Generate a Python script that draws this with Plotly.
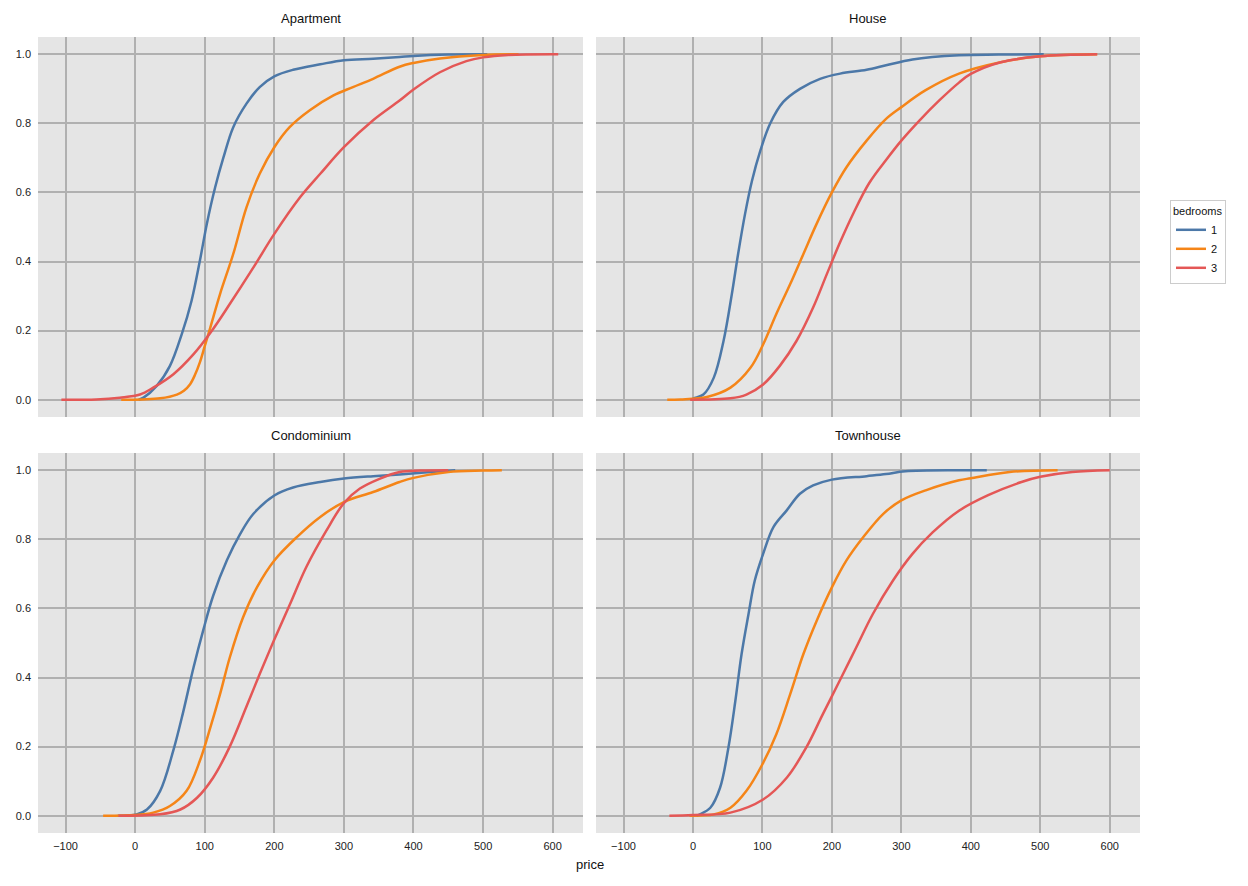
import plotly.graph_objects as go

panels = ["Apartment", "House", "Condominium", "Townhouse"]
bedrooms = ["1", "2", "3"]
colors = {"1": "#4c78a8", "2": "#f58518", "3": "#e45756"}

# Apartment
apt_1_x = [5, 12, 31, 50, 67, 81, 93, 103, 115, 127, 141, 160, 179, 200, 227, 266, 300, 342, 380, 400, 450, 506]
apt_1_y = [0.0, 0.006, 0.04, 0.098, 0.19, 0.286, 0.402, 0.509, 0.615, 0.702, 0.789, 0.857, 0.905, 0.936, 0.955, 0.971, 0.983, 0.987, 0.992, 0.995, 0.999, 1.0]
apt_2_x = [-20, 10, 36, 60, 70, 79, 86, 93, 100, 108, 122, 141, 160, 179, 200, 222, 251, 285, 313, 342, 380, 400, 438, 500, 551]
apt_2_y = [0.0, 0.001, 0.004, 0.015, 0.026, 0.045, 0.072, 0.108, 0.155, 0.209, 0.306, 0.422, 0.557, 0.654, 0.731, 0.789, 0.838, 0.881, 0.905, 0.929, 0.964, 0.975, 0.988, 0.998, 1.0]
apt_3_x = [-106, -56, -22, 7, 26, 55, 84, 110, 136, 170, 200, 237, 266, 300, 342, 380, 400, 438, 476, 500, 536, 608]
apt_3_y = [0.0, 0.001, 0.006, 0.015, 0.035, 0.074, 0.132, 0.199, 0.277, 0.383, 0.48, 0.586, 0.654, 0.731, 0.809, 0.866, 0.898, 0.948, 0.98, 0.991, 0.998, 1.0]

# House
house_1_x = [-2, 1, 15, 30, 44, 56, 65, 75, 85, 97, 111, 130, 154, 183, 212, 250, 278, 316, 383, 440, 505]
house_1_y = [0.0, 0.004, 0.015, 0.064, 0.17, 0.306, 0.422, 0.538, 0.634, 0.721, 0.799, 0.862, 0.9, 0.929, 0.944, 0.955, 0.968, 0.985, 0.997, 0.999, 1.0]
house_2_x = [-37, -18, 20, 54, 83, 101, 120, 140, 159, 178, 200, 221, 250, 278, 300, 335, 383, 443, 500, 582]
house_2_y = [0.0, 0.001, 0.008, 0.035, 0.093, 0.16, 0.248, 0.335, 0.422, 0.509, 0.6, 0.673, 0.75, 0.813, 0.847, 0.896, 0.944, 0.977, 0.994, 1.0]
house_3_x = [-4, 54, 77, 101, 125, 149, 173, 192, 211, 231, 254, 278, 300, 326, 355, 383, 400, 443, 500, 582]
house_3_y = [0.0, 0.004, 0.015, 0.044, 0.098, 0.17, 0.267, 0.36, 0.452, 0.54, 0.628, 0.694, 0.75, 0.808, 0.867, 0.918, 0.943, 0.977, 0.994, 1.0]

# Condominium
condo_1_x = [-25, 2, 17, 36, 55, 69, 84, 98, 112, 132, 151, 170, 200, 227, 266, 300, 342, 380, 420, 460]
condo_1_y = [0.0, 0.004, 0.018, 0.072, 0.19, 0.3, 0.43, 0.538, 0.636, 0.74, 0.816, 0.874, 0.927, 0.95, 0.966, 0.976, 0.983, 0.988, 0.994, 1.0]
condo_2_x = [-46, 0, 26, 50, 74, 93, 108, 122, 136, 155, 175, 200, 232, 266, 300, 342, 380, 400, 450, 500, 527]
condo_2_y = [0.0, 0.002, 0.009, 0.028, 0.072, 0.159, 0.255, 0.352, 0.458, 0.574, 0.661, 0.739, 0.806, 0.865, 0.908, 0.937, 0.966, 0.978, 0.995, 0.999, 1.0]
condo_3_x = [-24, 36, 65, 89, 112, 136, 160, 179, 200, 222, 246, 275, 300, 323, 352, 380, 410, 450]
condo_3_y = [0.0, 0.004, 0.018, 0.052, 0.11, 0.2, 0.316, 0.41, 0.51, 0.61, 0.72, 0.826, 0.905, 0.947, 0.976, 0.995, 0.999, 1.0]

# Townhouse
town_1_x = [5, 10, 25, 39, 51, 61, 70, 80, 89, 101, 116, 135, 154, 173, 200, 250, 278, 306, 383, 423]
town_1_y = [0.0, 0.004, 0.023, 0.081, 0.197, 0.332, 0.468, 0.584, 0.681, 0.758, 0.836, 0.884, 0.932, 0.956, 0.973, 0.983, 0.989, 0.997, 1.0, 1.0]
town_2_x = [-5, 30, 54, 77, 100, 120, 140, 159, 178, 200, 221, 245, 274, 300, 335, 383, 400, 456, 525]
town_2_y = [0.0, 0.004, 0.023, 0.072, 0.149, 0.236, 0.352, 0.468, 0.564, 0.661, 0.739, 0.806, 0.874, 0.913, 0.942, 0.971, 0.977, 0.995, 1.0]
town_3_x = [-34, 0, 54, 101, 135, 163, 187, 211, 235, 259, 288, 316, 345, 383, 425, 473, 500, 546, 600]
town_3_y = [0.0, 0.002, 0.009, 0.047, 0.11, 0.197, 0.294, 0.39, 0.487, 0.584, 0.681, 0.758, 0.82, 0.883, 0.928, 0.966, 0.981, 0.995, 1.0]

series = {
    "Apartment": [(apt_1_x, apt_1_y), (apt_2_x, apt_2_y), (apt_3_x, apt_3_y)],
    "House": [(house_1_x, house_1_y), (house_2_x, house_2_y), (house_3_x, house_3_y)],
    "Condominium": [(condo_1_x, condo_1_y), (condo_2_x, condo_2_y), (condo_3_x, condo_3_y)],
    "Townhouse": [(town_1_x, town_1_y), (town_2_x, town_2_y), (town_3_x, town_3_y)],
}

x_ticks = [-100, 0, 100, 200, 300, 400, 500, 600]
y_ticks = [0.0, 0.2, 0.4, 0.6, 0.8, 1.0]

OFF = 8  # page body margin
W, H = 1248 - 2 * OFF, 886 - 2 * OFF
# panel pixel boxes in screen coords (left, right, top, bottom)
boxes = {
    "Apartment": (38, 583, 37, 417),
    "House": (596, 1140, 37, 417),
    "Condominium": (38, 583, 453, 833),
    "Townhouse": (596, 1140, 453, 833),
}


def px(x):
    return (x - OFF) / W


def py(y):
    return 1 - (y - OFF) / H


FONT = "Liberation Sans, Arial, sans-serif"
fig = go.Figure()
layout = dict(
    template="none",
    width=W, height=H,
    margin=dict(l=0, r=0, t=0, b=0),
    paper_bgcolor="white",
    plot_bgcolor="#e5e5e5",
    font=dict(family=FONT, size=11, color="#222222"),
    showlegend=True,
    legend=dict(
        title=dict(text="bedrooms", font=dict(size=11, color="#111111")),
        x=px(1170), y=py(200), xanchor="left", yanchor="top",
        bgcolor="white", bordercolor="#cccccc", borderwidth=1,
        font=dict(size=11, color="#111111"), tracegroupgap=0, itemwidth=30,
    ),
    annotations=[],
)

for i, p in enumerate(panels):
    n = "" if i == 0 else str(i + 1)
    l, r, t, b = boxes[p]
    bottom = p in ("Condominium", "Townhouse")
    left = p in ("Apartment", "Condominium")
    layout["xaxis" + n] = dict(
        domain=[px(l), px(r)], anchor="y" + n, range=[-139.6, 643.6],
        tickvals=x_ticks, showticklabels=bottom,
        showgrid=True, gridcolor="#b0b0b0", gridwidth=1.5,
        zeroline=False, showline=False, ticks="", ticklabelstandoff=5,
        tickfont=dict(size=11, color="#222222"),
    )
    layout["yaxis" + n] = dict(
        domain=[py(b), py(t)], anchor="x" + n, range=[-0.05, 1.05],
        tickvals=y_ticks, tickformat=".1f", showticklabels=left,
        showgrid=True, gridcolor="#b0b0b0", gridwidth=1.5,
        zeroline=False, showline=False, ticks="", ticklabelstandoff=6,
        tickfont=dict(size=11, color="#222222"),
    )
    layout["annotations"].append(dict(
        text=p, x=px((l + r) / 2), y=py(t - 18), xref="paper", yref="paper",
        showarrow=False, font=dict(size=13, color="#111111"), xanchor="center", yanchor="middle",
    ))
    for j, bd in enumerate(bedrooms):
        xs, ys = series[p][j]
        fig.add_trace(go.Scatter(
            x=xs, y=ys, mode="lines", name=bd, legendgroup=bd, showlegend=(i == 0),
            line=dict(color=colors[bd], width=2.5, shape="spline", smoothing=1.0),
            xaxis="x" + n, yaxis="y" + n,
        ))

layout["annotations"].append(dict(
    text="price", x=px(590), y=py(864), xref="paper", yref="paper",
    showarrow=False, font=dict(size=13, color="#111111"), xanchor="center", yanchor="middle",
))

fig.update_layout(**layout)
fig.write_html("out.html")
